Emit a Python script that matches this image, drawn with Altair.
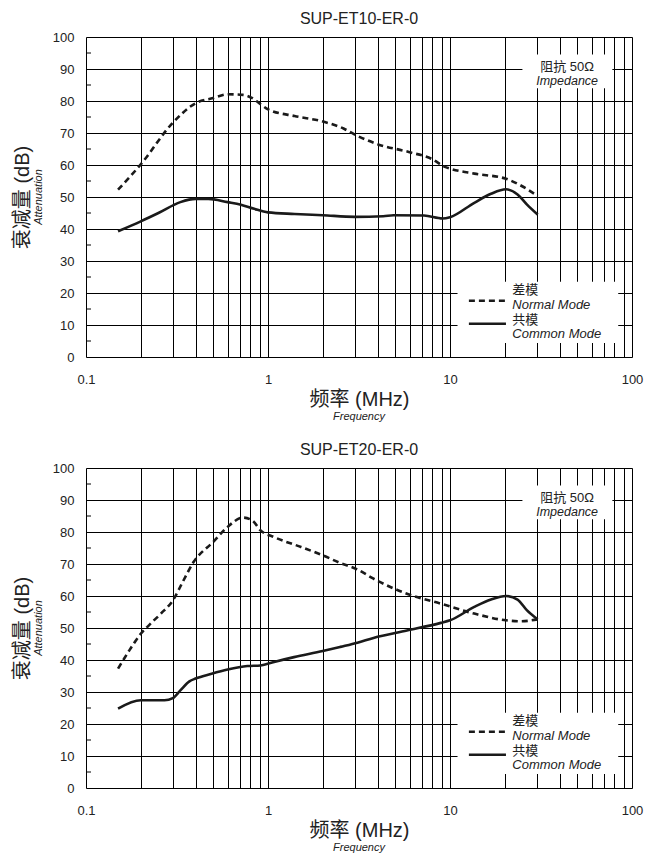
import altair as alt
import pandas as pd

FONT = "Liberation Sans, Arial, Noto Sans CJK SC"
INK = "#1a1a1a"
TXT = "#222222"

titles = ["SUP-ET10-ER-0", "SUP-ET20-ER-0"]

# ---- SUP-ET10-ER-0 ----
nm1_f = [0.15, 0.2, 0.3, 0.4, 0.5, 0.6, 0.73, 0.82, 0.91, 1.0, 1.4, 2.0, 2.6, 3.0, 4.0, 6.0, 8.0, 9.3, 10.1, 13.6, 20.3, 24.5, 30.3]
nm1_db = [52.3, 60.2, 73.2, 79.3, 80.9, 82.1, 81.9, 80.9, 79.0, 77.4, 75.3, 73.6, 71.4, 69.5, 66.5, 64.0, 61.8, 59.5, 58.8, 57.3, 55.7, 53.6, 50.3]
cm1_f = [0.15, 0.2, 0.25, 0.33, 0.4, 0.47, 0.6, 0.71, 0.84, 1.0, 1.4, 2.0, 3.0, 4.3, 4.9, 7.2, 9.1, 10.0, 13.6, 16.8, 20.3, 23.5, 26.5, 30.3]
cm1_db = [39.3, 42.4, 45.0, 48.4, 49.4, 49.4, 48.4, 47.6, 46.3, 45.2, 44.7, 44.3, 43.8, 44.0, 44.3, 44.2, 43.3, 43.7, 48.2, 51.0, 52.4, 50.8, 47.6, 44.5]

# ---- SUP-ET20-ER-0 ----
nm2_f = [0.15, 0.173, 0.2, 0.223, 0.258, 0.3, 0.34, 0.39, 0.5, 0.6, 0.73, 0.82, 0.91, 1.08, 1.52, 2.0, 2.5, 3.1, 3.8, 5.8, 8.9, 13.6, 20.3, 24.5, 30.3]
nm2_db = [37.3, 43.0, 48.2, 51.0, 54.5, 58.6, 64.4, 70.6, 76.9, 81.6, 84.5, 83.6, 80.5, 78.4, 75.3, 72.7, 70.3, 68.3, 65.4, 60.7, 57.6, 54.5, 52.4, 52.1, 52.7]
cm2_f = [0.15, 0.2, 0.27, 0.3, 0.33, 0.37, 0.4, 0.49, 0.6, 0.77, 0.91, 1.08, 1.39, 2.0, 2.5, 3.1, 3.8, 5.8, 8.9, 10.0, 13.6, 16.8, 20.3, 23.5, 26.5, 30.3]
cm2_db = [24.8, 27.4, 27.4, 28.1, 30.5, 33.3, 34.2, 35.7, 37.0, 38.1, 38.3, 39.4, 40.9, 42.8, 44.1, 45.4, 46.9, 49.2, 51.6, 52.4, 56.6, 58.9, 60.0, 58.9, 55.5, 52.7]

x_grid = [0.1, 0.2, 0.3, 0.4, 0.5, 0.6, 0.7, 0.8, 0.9,
          1, 2, 3, 4, 5, 6, 7, 8, 9,
          10, 20, 30, 40, 50, 60, 70, 80, 90, 100]
y_grid = [0, 10, 20, 30, 40, 50, 60, 70, 80, 90, 100]
y_minor = [5, 15, 25, 35, 45, 55, 65, 75, 85, 95]

W, H = 546, 320

# annotation boxes (data space)
imp_box = {"x": 25.0, "x2": 78.0, "y": 84.0, "y2": 94.5}
leg_box = {"x": 11.0, "x2": 84.0, "y": 4.4, "y2": 23.5}
leg_line_x = [12.7, 20.3]
leg_text_x = 22.0
imp_text_x = 44.0

xs = alt.Scale(type="log", domain=[0.1, 100], nice=False)
ys = alt.Scale(domain=[0, 100], nice=False, zero=False)

x_axis = alt.Axis(values=x_grid, grid=True, gridColor="black", gridWidth=1,
                  ticks=False, tickSize=0, domain=False, labelOverlap=False,
                  labelFlush=False, format="~g",
                  labelExpr="abs(log(datum.value)/LN10 - round(log(datum.value)/LN10)) < 0.001 ? datum.label : ''",
                  labelFont=FONT, labelFontSize=13, labelColor=TXT, labelPadding=16,
                  title="频率 (MHz)", titleFont=FONT, titleFontSize=20, titleFontWeight="normal",
                  titleColor=TXT, titleY=42, titleBaseline="middle")
y_axis = alt.Axis(values=y_grid, grid=True, gridColor="black", gridWidth=1,
                  ticks=False, tickSize=0, domain=False, labelOverlap=False,
                  labelFont=FONT, labelFontSize=13, labelColor=TXT, labelPadding=12,
                  title="衰减量 (dB)", titleFont=FONT, titleFontSize=20, titleFontWeight="normal",
                  titleColor=TXT, titleX=-64, titleY=H / 2, titleAngle=270,
                  titleBaseline="middle", titleAlign="center")


def X(field):
    return alt.X(field, scale=xs, axis=x_axis)


def Y(field):
    return alt.Y(field, scale=ys, axis=y_axis)


def panel(title, nm_f, nm_db, cm_f, cm_db):
    nm = pd.DataFrame({"f": nm_f, "db": nm_db})
    cm = pd.DataFrame({"f": cm_f, "db": cm_db})

    base_box = alt.Chart(pd.DataFrame([imp_box, leg_box])).mark_rect(fill="white").encode(
        x=X("x:Q"), x2="x2:Q", y=Y("y:Q"), y2="y2:Q",
    )

    minor = alt.Chart(pd.DataFrame({"v": y_minor})).mark_rule(color="black", strokeWidth=1).encode(
        x=alt.value(0), x2=alt.value(5), y=Y("v:Q")
    )

    nm_line = alt.Chart(nm).mark_line(color=INK, strokeWidth=2.6, strokeDash=[6, 4],
                                      interpolate="monotone").encode(x=X("f:Q"), y=Y("db:Q"))
    cm_line = alt.Chart(cm).mark_line(color=INK, strokeWidth=2.6,
                                      interpolate="monotone").encode(x=X("f:Q"), y=Y("db:Q"))

    leg_nm = alt.Chart(pd.DataFrame({"x": [leg_line_x[0]], "x2": [leg_line_x[1]], "y": [17.6]})).mark_rule(
        color=INK, strokeWidth=2.6, strokeDash=[6, 4]).encode(x=X("x:Q"), x2="x2:Q", y=Y("y:Q"))
    leg_cm = alt.Chart(pd.DataFrame({"x": [leg_line_x[0]], "x2": [leg_line_x[1]], "y": [10.4]})).mark_rule(
        color=INK, strokeWidth=2.6).encode(x=X("x:Q"), x2="x2:Q", y=Y("y:Q"))

    zh_left = alt.Chart(pd.DataFrame({"x": [leg_text_x, leg_text_x], "y": [20.8, 11.7],
                                      "t": ["差模", "共模"]})).mark_text(
        font=FONT, fontSize=13, color=TXT, align="left", baseline="middle").encode(
        x=X("x:Q"), y=Y("y:Q"), text="t:N")
    en_left = alt.Chart(pd.DataFrame({"x": [leg_text_x, leg_text_x], "y": [16.3, 7.3],
                                      "t": ["Normal Mode", "Common Mode"]})).mark_text(
        font=FONT, fontSize=13, fontStyle="italic", color=TXT, align="left", baseline="middle").encode(
        x=X("x:Q"), y=Y("y:Q"), text="t:N")
    zh_ctr = alt.Chart(pd.DataFrame({"x": [imp_text_x], "y": [90.6], "t": ["阻抗 50Ω"]})).mark_text(
        font=FONT, fontSize=13, color=TXT, align="center", baseline="middle").encode(
        x=X("x:Q"), y=Y("y:Q"), text="t:N")
    en_ctr = alt.Chart(pd.DataFrame({"x": [imp_text_x], "y": [86.2], "t": ["Impedance"]})).mark_text(
        font=FONT, fontSize=12.5, fontStyle="italic", color=TXT, align="center", baseline="middle").encode(
        x=X("x:Q"), y=Y("y:Q"), text="t:N")

    freq_lbl = alt.Chart(pd.DataFrame({"t": ["Frequency"]})).mark_text(
        font=FONT, fontSize=11, fontStyle="italic", color=TXT, align="center", baseline="middle").encode(
        x=alt.value(W / 2), y=alt.value(H + 60), text="t:N")
    att_lbl = alt.Chart(pd.DataFrame({"t": ["Attenuation"]})).mark_text(
        font=FONT, fontSize=11, fontStyle="italic", color=TXT, align="center", baseline="middle",
        angle=270).encode(
        x=alt.value(-47), y=alt.value(H / 2), text="t:N")

    return alt.layer(base_box, minor, nm_line, cm_line, leg_nm, leg_cm,
                     zh_left, zh_ctr, en_left, en_ctr, freq_lbl, att_lbl).properties(
        width=W, height=H,
        title=alt.TitleParams(title, font=FONT, fontSize=16, fontWeight="normal",
                              color=TXT, anchor="middle", frame="group", offset=4))


top = panel(titles[0], nm1_f, nm1_db, cm1_f, cm1_db)
bottom = panel(titles[1], nm2_f, nm2_db, cm2_f, cm2_db)

chart = alt.vconcat(top, bottom, spacing=18).properties(
    padding={"left": 3, "top": 2, "right": 5, "bottom": 5}
).configure_view(stroke="black", strokeWidth=2.5).configure(background="white")

chart.save("out.html", embed_options={"renderer": "svg", "actions": False})
